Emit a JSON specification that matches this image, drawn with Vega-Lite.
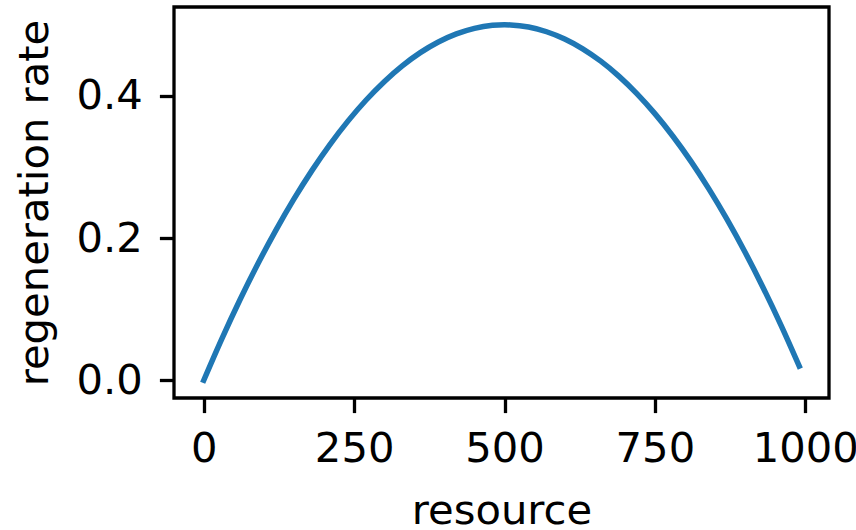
{
  "$schema": "https://vega.github.io/schema/vega-lite/v6.json",
  "width": 655,
  "height": 391,
  "autosize": {"type": "none"},
  "padding": {"left": 174, "top": 7, "right": 27, "bottom": 132},
  "background": "white",
  "config": {
    "view": {"stroke": "black", "strokeWidth": 3.3},
    "font": "DejaVu Sans",
    "axis": {
      "grid": false,
      "domain": false,
      "tickColor": "black",
      "tickWidth": 3.3,
      "tickSize": 14.6,
      "labelFont": "DejaVu Sans",
      "labelFontSize": 41.7,
      "labelColor": "black",
      "titleFont": "DejaVu Sans",
      "titleFontSize": 41.7,
      "titleFontWeight": "normal",
      "titleColor": "black",
      "labelOverlap": false,
      "labelFlush": false
    }
  },
  "data": {
    "values": [
      {"resource": 0, "rate": 0},
      {"resource": 30, "rate": 0.0582},
      {"resource": 60, "rate": 0.1128},
      {"resource": 90, "rate": 0.1638},
      {"resource": 120, "rate": 0.2112},
      {"resource": 150, "rate": 0.255},
      {"resource": 180, "rate": 0.2952},
      {"resource": 210, "rate": 0.3318},
      {"resource": 240, "rate": 0.3648},
      {"resource": 270, "rate": 0.3942},
      {"resource": 300, "rate": 0.42},
      {"resource": 330, "rate": 0.4422},
      {"resource": 360, "rate": 0.4608},
      {"resource": 390, "rate": 0.4758},
      {"resource": 420, "rate": 0.4872},
      {"resource": 450, "rate": 0.495},
      {"resource": 480, "rate": 0.4992},
      {"resource": 500, "rate": 0.5},
      {"resource": 510, "rate": 0.4998},
      {"resource": 540, "rate": 0.4968},
      {"resource": 570, "rate": 0.4902},
      {"resource": 600, "rate": 0.48},
      {"resource": 630, "rate": 0.4662},
      {"resource": 660, "rate": 0.4488},
      {"resource": 690, "rate": 0.4278},
      {"resource": 720, "rate": 0.4032},
      {"resource": 750, "rate": 0.375},
      {"resource": 780, "rate": 0.3432},
      {"resource": 810, "rate": 0.3078},
      {"resource": 840, "rate": 0.2688},
      {"resource": 870, "rate": 0.2262},
      {"resource": 900, "rate": 0.18},
      {"resource": 930, "rate": 0.1302},
      {"resource": 960, "rate": 0.0768},
      {"resource": 990, "rate": 0.0198}
    ]
  },
  "mark": {"type": "line", "color": "#1f77b4", "strokeWidth": 5.5, "strokeCap": "square", "interpolate": "monotone"},
  "encoding": {
    "x": {
      "field": "resource", "type": "quantitative",
      "scale": {"domain": [-49.5, 1039.5], "nice": false, "zero": false},
      "axis": {"title": "resource", "values": [0, 250, 500, 750, 1000], "format": "d", "labelPadding": 16, "titlePadding": 20}
    },
    "y": {
      "field": "rate", "type": "quantitative",
      "scale": {"domain": [-0.025, 0.525], "nice": false, "zero": false},
      "axis": {"title": "regeneration rate", "values": [0, 0.2, 0.4], "format": ".1f", "labelPadding": 17, "titlePadding": 20}
    }
  }
}
